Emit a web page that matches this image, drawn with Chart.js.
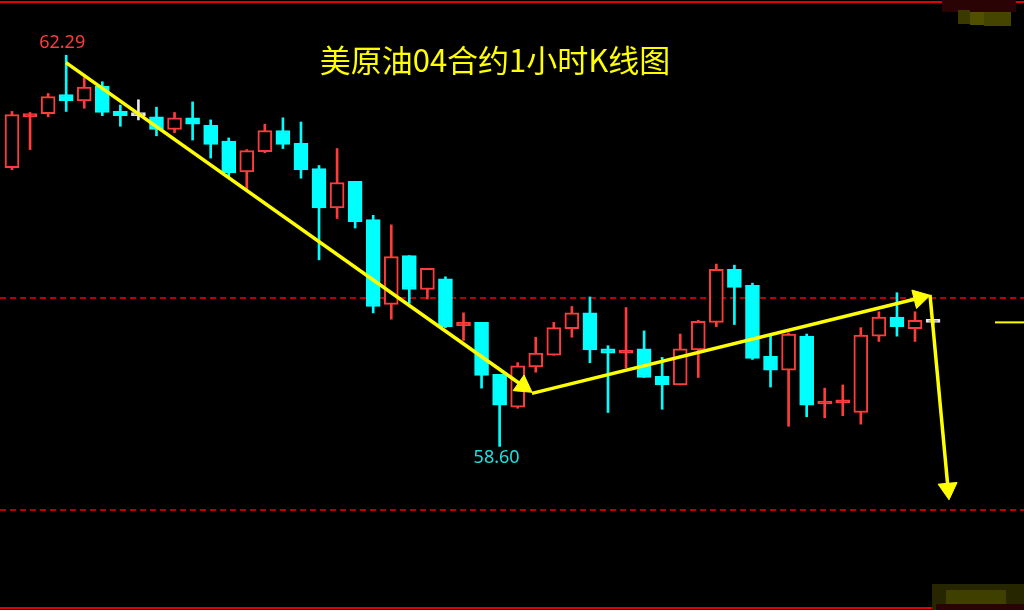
<!DOCTYPE html>
<html>
<head>
<meta charset="utf-8">
<script src="https://cdn.jsdelivr.net/npm/chart.js@4.4.1/dist/chart.umd.min.js"></script>
<style>
  html, body { margin: 0; padding: 0; background: #000; }
  #wrap { width: 1024px; height: 610px; position: relative; }
</style>
</head>
<body>
<div id="wrap"><canvas id="kline"></canvas></div>
<script>
// 1-hour candles, oldest first
const opens = [
  61.23, 61.71, 61.74, 61.92, 61.86, 62.00, 61.76, 61.72, 61.71, 61.59,
  61.70, 61.63, 61.48, 61.19, 61.38, 61.58, 61.46, 61.22, 60.85, 61.10,
  60.74, 59.94, 60.40, 60.08, 60.18, 59.74, 59.77, 59.28, 58.97, 59.35,
  59.46, 59.71, 59.86, 59.52, 59.48, 59.52, 59.26, 59.18, 59.51, 59.77,
  60.27, 60.12, 59.45, 59.32, 59.64, 59.00, 59.01, 58.92, 59.64, 59.82,
  59.71, 59.77,
];
const highs = [
  61.76, 61.75, 61.93, 62.29, 62.08, 62.04, 61.82, 61.87, 61.80, 61.75,
  61.85, 61.68, 61.51, 61.40, 61.64, 61.70, 61.66, 61.25, 61.41, 61.10,
  60.78, 60.69, 60.40, 60.28, 60.20, 59.86, 59.77, 59.28, 59.39, 59.63,
  59.77, 59.92, 60.01, 59.55, 59.91, 59.69, 59.44, 59.66, 59.79, 60.32,
  60.31, 60.14, 59.64, 59.67, 59.66, 59.15, 59.18, 59.72, 59.87, 60.05,
  59.87, 59.79,
];
const lows = [
  61.21, 61.40, 61.71, 61.76, 61.79, 61.72, 61.62, 61.68, 61.53, 61.56,
  61.49, 61.32, 61.14, 61.02, 61.37, 61.41, 61.13, 60.36, 60.75, 60.66,
  59.86, 59.80, 59.95, 59.99, 59.72, 59.60, 59.15, 58.60, 58.96, 59.30,
  59.46, 59.63, 59.39, 58.92, 59.34, 59.25, 58.95, 59.18, 59.25, 59.73,
  59.75, 59.42, 59.16, 58.79, 58.88, 58.87, 58.89, 58.81, 59.59, 59.64,
  59.59, 59.75,
];
const closes = [
  61.73, 61.74, 61.90, 61.86, 61.99, 61.75, 61.72, 61.72, 61.59, 61.70,
  61.64, 61.45, 61.18, 61.39, 61.58, 61.45, 61.21, 60.85, 61.09, 60.72,
  59.92, 60.39, 60.08, 60.28, 59.73, 59.77, 59.27, 58.99, 59.36, 59.48,
  59.72, 59.86, 59.51, 59.48, 59.50, 59.25, 59.18, 59.52, 59.78, 60.27,
  60.10, 59.43, 59.32, 59.66, 58.99, 59.02, 59.03, 59.65, 59.82, 59.73,
  59.79, 59.77,
];

// dashed reference prices
const levels = [60, 58];

// hand-drawn trend arrows: [start, end] in (bar index, price)
const arrowX = [[2.99, 28.30], [28.79, 50.25], [50.83, 51.83]];
const arrowY = [[62.22, 59.17], [59.10, 60.00], [60.03, 58.20]];
const arrowAngle = [125, 76, 175];

const title = "美原油04合约1小时K线图";

const X_MIN = -0.6645;
const X_MAX = 56.035;
const Y_MIN = 57.0566;
const Y_MAX = 62.8113;

const RED = "#ff3c3c";
const CYAN = "#00ffff";
const WHITE = "#e8e8e8";
const YELLOW = "#ffff00";

const idx = opens.map((v, i) => i);
const candleColor = idx.map((i) =>
  closes[i] > opens[i] ? RED : closes[i] < opens[i] ? CYAN : WHITE
);
// up candles are hollow unless the body is too thin to show a hole
const bodyFill = idx.map((i) =>
  closes[i] - opens[i] > 0.04 ? "#000" : candleColor[i]
);

const datasets = [];

// trend arrows on top
arrowX.forEach((xs, k) => {
  datasets.push({
    type: "line",
    order: -2,
    data: [
      { x: xs[0], y: arrowY[k][0] },
      { x: xs[1], y: arrowY[k][1] },
    ],
    borderColor: YELLOW,
    borderWidth: 3.5,
    pointRadius: [0, 11],
    pointStyle: "triangle",
    pointRotation: [0, arrowAngle[k]],
    pointBackgroundColor: YELLOW,
    pointBorderColor: YELLOW,
    pointBorderWidth: 1,
  });
});

// last price marker at the right edge
datasets.push({
  type: "line",
  order: -1,
  data: [
    { x: 54.43, y: closes[closes.length - 1] },
    { x: X_MAX, y: closes[closes.length - 1] },
  ],
  borderColor: YELLOW,
  borderWidth: 2,
  pointRadius: 0,
});

// candle bodies
datasets.push({
  type: "bar",
  order: 0,
  grouped: false,
  data: idx.map((i) => ({ x: i, y: [opens[i], closes[i]] })),
  backgroundColor: bodyFill,
  borderColor: candleColor,
  borderWidth: 2,
  borderSkipped: false,
  barThickness: 14,
  minBarLength: 3,
});

// wicks
datasets.push({
  type: "bar",
  order: 1,
  grouped: false,
  data: idx.map((i) => ({ x: i, y: [lows[i], highs[i]] })),
  backgroundColor: candleColor,
  borderWidth: 0,
  barThickness: 2,
});

// dashed price levels
levels.forEach((lv) => {
  datasets.push({
    type: "line",
    order: 2,
    data: [
      { x: X_MIN, y: lv },
      { x: X_MAX, y: lv },
    ],
    borderColor: "#b40000",
    borderWidth: 2,
    borderDash: [6, 4],
    pointRadius: 0,
  });
});

const decorations = {
  id: "decorations",
  afterDraw(chart) {
    const { ctx, chartArea, scales } = chart;
    ctx.save();

    // panel border lines
    ctx.fillStyle = "#e00000";
    ctx.fillRect(chartArea.left, chartArea.top + 1, chartArea.width, 2);
    ctx.fillRect(chartArea.left, chartArea.bottom - 3, chartArea.width, 2);

    // blurred watermark patches
    ctx.fillStyle = "#2a0404";
    ctx.fillRect(942, 0, 74, 12);
    ctx.fillStyle = "#3a3a00";
    ctx.fillRect(958, 10, 12, 14);
    ctx.fillStyle = "#505000";
    ctx.fillRect(970, 12, 14, 13);
    ctx.fillStyle = "#454500";
    ctx.fillRect(984, 12, 27, 14);
    ctx.fillStyle = "#262600";
    ctx.fillRect(932, 584, 92, 26);
    ctx.fillStyle = "#3f3f00";
    ctx.fillRect(946, 590, 60, 14);
    ctx.fillStyle = "#2a0404";
    ctx.fillRect(936, 604, 88, 6);

    // title
    ctx.fillStyle = YELLOW;
    ctx.font = '31px "Noto Sans CJK SC", sans-serif';
    ctx.textAlign = "center";
    ctx.textBaseline = "middle";
    ctx.fillText(title, 495, 60);

    // high / low labels
    let hi = 0, lo = 0;
    highs.forEach((v, i) => { if (v > highs[hi]) hi = i; });
    lows.forEach((v, i) => { if (v < lows[lo]) lo = i; });
    ctx.font = '18px "Noto Sans", sans-serif';
    ctx.fillStyle = RED;
    ctx.textBaseline = "bottom";
    ctx.fillText(highs[hi].toFixed(2), scales.x.getPixelForValue(hi) - 4, scales.y.getPixelForValue(highs[hi]) - 3);
    ctx.fillStyle = "#1de0e0";
    ctx.textBaseline = "top";
    ctx.fillText(lows[lo].toFixed(2), scales.x.getPixelForValue(lo) - 3, scales.y.getPixelForValue(lows[lo]) + 2);

    ctx.restore();
  },
};

const kline = new Chart(document.getElementById("kline"), {
  data: { datasets: datasets },
  options: {
    responsive: true,
    maintainAspectRatio: false,
    animation: false,
    events: [],
    layout: { padding: 0, autoPadding: false },
    plugins: {
      legend: { display: false },
      tooltip: { enabled: false },
    },
    scales: {
      x: { type: "linear", min: X_MIN, max: X_MAX, offset: false, display: false },
      y: { type: "linear", min: Y_MIN, max: Y_MAX, display: false },
    },
  },
  plugins: [decorations],
});
</script>
</body>
</html>
